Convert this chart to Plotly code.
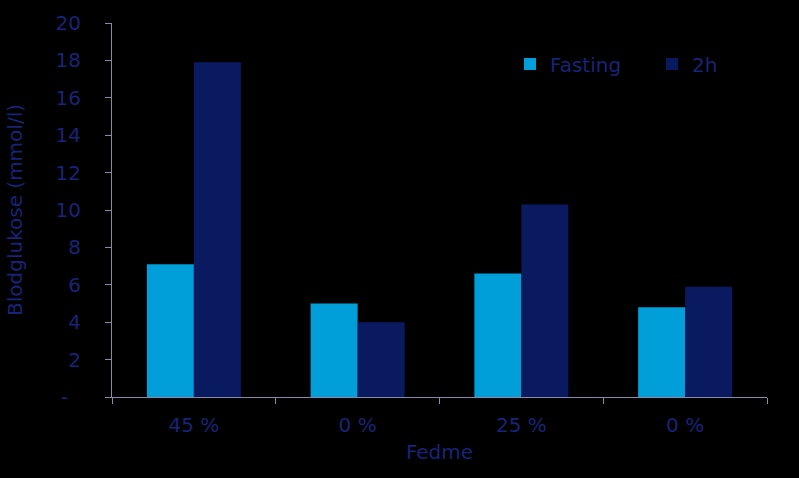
import plotly.graph_objects as go

categories = ["45\u00a0%", "0\u00a0%", "25\u00a0%", "0\u00a0%"]
fasting = [7.1, 5.0, 6.6, 4.8]
two_h = [17.9, 4.0, 10.3, 5.9]
y_ticks = [0, 2, 4, 6, 8, 10, 12, 14, 16, 18, 20]
y_ticktext = ["-\u00a0\u00a0"] + [str(v) for v in y_ticks[1:]]

x = list(range(len(categories)))
text_col = "#172478"
axis_col = "#8a8aa8"
font = "DejaVu Sans"
fs = 20

fig = go.Figure()
fig.add_trace(go.Bar(x=x, y=fasting, name="Fasting", legend="legend",
                     marker=dict(color="#009fda", line_width=0)))
fig.add_trace(go.Bar(x=x, y=two_h, name="2h", legend="legend2",
                     marker=dict(color="#0a1a60", line_width=0)))

leg_common = dict(xanchor="left", yanchor="middle", xref="container", yref="container",
                  bgcolor="rgba(0,0,0,0)", font=dict(size=fs, color=text_col),
                  itemwidth=30)
fig.update_layout(
    width=799, height=478,
    paper_bgcolor="black", plot_bgcolor="black",
    margin=dict(l=112, r=32, t=23, b=81, autoexpand=False),
    barmode="group", bargap=0.426, bargroupgap=0,
    font=dict(family=font, size=fs, color=text_col),
    showlegend=True,
    legend=dict(x=510 / 799, y=1 - 64 / 478, **leg_common),
    legend2=dict(x=652 / 799, y=1 - 64 / 478, **leg_common),
)
fig.update_xaxes(
    range=[-0.5, len(categories) - 0.5],
    tickvals=x, ticktext=categories, ticks="",
    showline=True, linecolor=axis_col, linewidth=1,
    showgrid=False, zeroline=False,
    tickfont=dict(size=fs, color=text_col),
    minor=dict(tickvals=[i - 0.5 for i in range(len(categories) + 1)], ticks="outside",
               ticklen=6, tickcolor=axis_col, showgrid=False),
    title=dict(text="Fedme", font=dict(size=fs, color=text_col), standoff=8),
    ticklabelstandoff=10,
)
fig.update_yaxes(
    range=[0, 20], tickvals=y_ticks, ticktext=y_ticktext,
    ticks="outside", ticklen=6, tickcolor=axis_col,
    showline=True, linecolor=axis_col, linewidth=1,
    showgrid=False, zeroline=False,
    tickfont=dict(size=fs, color=text_col),
    ticklabelstandoff=20,
    title=dict(text="Blodglukose (mmol/l)", font=dict(size=fs, color=text_col), standoff=27),
)
fig.write_html("out.html")
